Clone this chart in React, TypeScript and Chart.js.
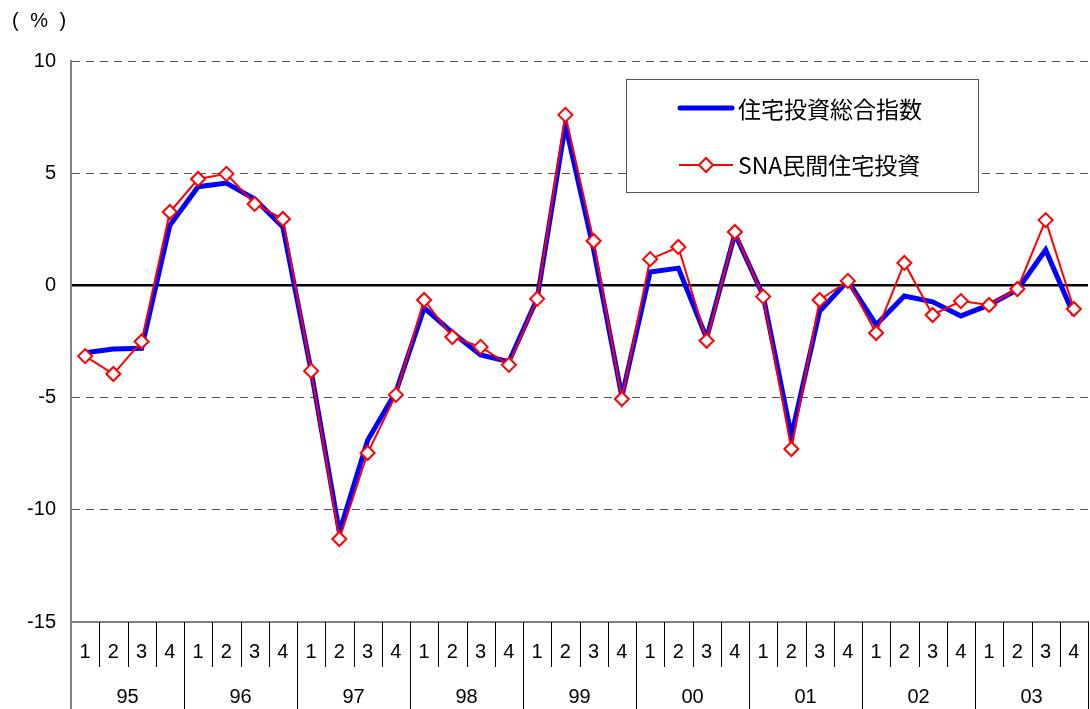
import React, { useEffect, useRef } from 'react';
import { Chart, registerables } from 'chart.js';

Chart.register(...registerables);

// ---- data ----
const years = ['95', '96', '97', '98', '99', '00', '01', '02', '03'];
const quarters = ['1', '2', '3', '4'];

// 住宅投資総合指数 (blue thick line)
const compositeIndex = [
  -3.0, -2.83, -2.8, 2.68, 4.4, 4.56, 3.85, 2.6,
  -3.8, -11.0, -6.9, -4.75, -1.0, -2.1, -3.1, -3.4,
  -0.6, 7.15, 1.6, -4.95, 0.6, 0.77, -2.35, 2.3,
  -0.45, -6.7, -1.15, 0.2, -1.75, -0.47, -0.73, -1.36,
  -0.87, -0.2, 1.58, -1.33,
];

// SNA民間住宅投資 (red line with diamonds)
const snaInvestment = [
  -3.15, -3.95, -2.5, 3.27, 4.74, 4.97, 3.63, 2.96,
  -3.81, -11.3, -7.47, -4.88, -0.65, -2.3, -2.74, -3.54,
  -0.6, 7.6, 1.98, -5.06, 1.17, 1.71, -2.47, 2.38,
  -0.5, -7.29, -0.65, 0.2, -2.12, 1.0, -1.32, -0.7,
  -0.87, -0.16, 2.91, -1.05,
];

const seriesNames = ['住宅投資総合指数', 'SNA民間住宅投資'];
const yMin = -15;
const yMax = 10;
const yStep = 5;
const unitLabel = '( % )';

const categoryLabels = years.flatMap(() => quarters);

const FONT = '"Liberation Sans", Arial, sans-serif';
const CJK = '"Noto Sans CJK JP", "Noto Sans", sans-serif';
const BLUE = '#0000FF';
const RED = '#FF0000';

const QUARTER_ROW = 45;
const YEAR_ROW = 42;

const decorPlugin = {
  id: 'decor',
  afterDraw(chart: any) {
    const { ctx, chartArea } = chart;
    const xs = chart.scales.x;
    const n = categoryLabels.length;
    const half = (xs.getPixelForValue(1) - xs.getPixelForValue(0)) / 2;
    ctx.save();
    // separators of the two-row category axis
    for (let i = 0; i <= n; i++) {
      const x = i < n ? xs.getPixelForValue(i) - half : xs.getPixelForValue(n - 1) + half;
      const isYear = i % quarters.length === 0;
      const y2 = isYear ? chart.height : chartArea.bottom + QUARTER_ROW;
      ctx.beginPath();
      if (i === 0) {
        ctx.strokeStyle = '#808080';
        ctx.lineWidth = 2;
      } else {
        ctx.strokeStyle = '#000';
        ctx.lineWidth = 1;
      }
      const px = i === 0 ? x : Math.round(x) + 0.5;
      ctx.moveTo(px, chartArea.bottom);
      ctx.lineTo(px, y2);
      ctx.stroke();
    }

    // unit label
    ctx.fillStyle = '#000';
    ctx.font = `20px ${FONT}`;
    ctx.textBaseline = 'middle';
    ctx.textAlign = 'left';
    try { (ctx as any).letterSpacing = '3px'; } catch (e) { /* ignore */ }
    ctx.fillText(unitLabel, 12, 21);
    try { (ctx as any).letterSpacing = '0px'; } catch (e) { /* ignore */ }

    // legend box
    const lx = 626, ly = 79, lw = 352, lh = 113;
    ctx.fillStyle = '#fff';
    ctx.fillRect(lx, ly, lw, lh);
    ctx.strokeStyle = '#555';
    ctx.lineWidth = 1;
    ctx.strokeRect(lx + 0.5, ly + 0.5, lw, lh);

    // blue entry
    const y1 = 108;
    ctx.beginPath();
    ctx.strokeStyle = BLUE;
    ctx.lineWidth = 5;
    ctx.lineCap = 'round';
    ctx.moveTo(680, y1);
    ctx.lineTo(732, y1);
    ctx.stroke();
    ctx.fillStyle = '#000';
    ctx.font = `23px ${CJK}`;
    ctx.fillText(seriesNames[0], 738, y1 + 1);

    // red entry
    const yr = 165;
    ctx.beginPath();
    ctx.strokeStyle = RED;
    ctx.lineWidth = 2;
    ctx.lineCap = 'butt';
    ctx.moveTo(679, yr);
    ctx.lineTo(733, yr);
    ctx.stroke();
    const cx = 706, r = 7;
    ctx.beginPath();
    ctx.moveTo(cx, yr - r);
    ctx.lineTo(cx + r, yr);
    ctx.lineTo(cx, yr + r);
    ctx.lineTo(cx - r, yr);
    ctx.closePath();
    ctx.fillStyle = '#fff';
    ctx.fill();
    ctx.stroke();
    ctx.fillStyle = '#000';
    ctx.fillText(seriesNames[1], 738, yr);
    ctx.restore();
  },
};

export default function App() {
  const canvasRef = useRef<HTMLCanvasElement | null>(null);

  useEffect(() => {
    if (!canvasRef.current) return;
    const chart = new Chart(canvasRef.current, {
      type: 'line',
      data: {
        labels: categoryLabels,
        datasets: [
          {
            label: seriesNames[1],
            data: snaInvestment,
            borderColor: RED,
            borderWidth: 2,
            backgroundColor: '#fff',
            pointStyle: 'rectRot',
            pointRadius: 7,
            pointBorderWidth: 2,
            pointBorderColor: RED,
            pointBackgroundColor: '#fff',
            tension: 0,
            order: 0,
            xAxisID: 'x',
          },
          {
            label: seriesNames[0],
            data: compositeIndex,
            borderColor: BLUE,
            borderWidth: 5,
            pointRadius: 0,
            tension: 0,
            order: 1,
            xAxisID: 'x',
          },
        ],
      },
      options: {
        animation: false,
        responsive: false,
        maintainAspectRatio: false,
        devicePixelRatio: 1,
        layout: { autoPadding: false, padding: { top: 61, right: 2, left: 0, bottom: 0 } },
        plugins: {
          legend: { display: false },
          tooltip: { enabled: false },
          title: { display: false },
        },
        scales: {
          y: {
            min: yMin,
            max: yMax,
            afterFit: (s: any) => {
              s.width = 71;
            },
            ticks: {
              stepSize: yStep,
              padding: 15,
              color: '#000',
              font: { family: FONT, size: 20 },
            },
            grid: {
              drawTicks: false,
              color: (c: any) => {
                const v = c.tick ? c.tick.value : null;
                if (v === 0) return '#000';
                if (v === yMin) return 'rgba(0,0,0,0)';
                return '#555';
              },
              lineWidth: (c: any) => (c.tick && c.tick.value === 0 ? 2.5 : 1),
            },
            border: {
              color: '#808080',
              width: 2,
              dash: (c: any) => (c.tick && c.tick.value !== 0 ? [8, 6] : []),
            },
          },
          x: {
            type: 'category',
            position: 'bottom',
            offset: true,
            weight: 0,
            afterFit: (s: any) => {
              s.height = QUARTER_ROW;
            },
            ticks: {
              autoSkip: false,
              maxRotation: 0,
              minRotation: 0,
              padding: 0,
              color: '#000',
              font: { family: FONT, size: 20 },
            },
            grid: {
              display: true,
              drawOnChartArea: false,
              drawTicks: true,
              tickLength: 18,
              tickColor: 'rgba(0,0,0,0)',
              color: 'rgba(0,0,0,0)',
              offset: true,
            },
            border: { color: '#808080', width: 2 },
          },
          x2: {
            type: 'category',
            labels: years,
            offset: true,
            position: 'bottom',
            weight: 1,
            afterFit: (s: any) => {
              s.height = YEAR_ROW;
            },
            ticks: {
              autoSkip: false,
              maxRotation: 0,
              minRotation: 0,
              padding: 0,
              color: '#000',
              font: { family: FONT, size: 20 },
            },
            grid: {
              display: true,
              drawOnChartArea: false,
              drawTicks: true,
              tickLength: 18,
              tickColor: 'rgba(0,0,0,0)',
              color: 'rgba(0,0,0,0)',
            },
            border: { display: false },
          },
        },
      },
      plugins: [decorPlugin],
    });
    return () => chart.destroy();
  }, []);

  return (
    <div style={{ position: 'absolute', left: 0, top: 0, width: 1090, height: 709 }}>
      <canvas ref={canvasRef} width={1090} height={709} style={{ display: 'block' }} />
    </div>
  );
}
